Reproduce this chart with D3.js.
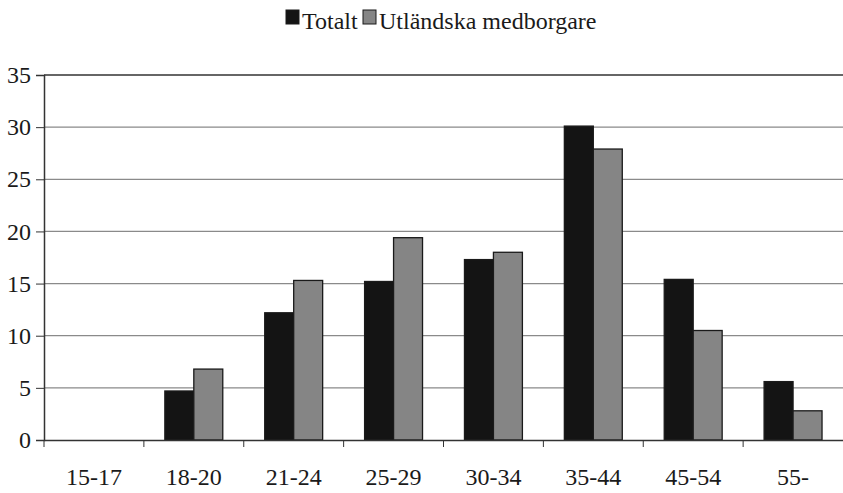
<!DOCTYPE html>
<html><head><meta charset="utf-8">
<script src="https://cdn.jsdelivr.net/npm/d3@7"></script>
<style>.cs{font-family:'Liberation Serif'}</style>
</head><body style="margin:0;background:#fff">
<div><svg id="c" width="843" height="492"></svg></div>
<script>
const categories=["15-17","18-20","21-24","25-29","30-34","35-44","45-54","55-"];
const seriesNames=["Totalt","Utländska medborgare"];
const totalt=[0,4.7,12.2,15.2,17.3,30.1,15.4,5.6];
const utlandska=[0,6.8,15.3,19.4,18.0,27.9,10.5,2.8];
const yTicks=[0,5,10,15,20,25,30,35];
const colors=["#141414","#858585"];

const svg=d3.select("#c");
const m={l:44,r:843,t:75,b:440};
const x=d3.scaleBand().domain(categories).range([m.l,m.r]).paddingInner(0.42).paddingOuter(0.21);
const x1=d3.scaleBand().domain(seriesNames).range([0,x.bandwidth()]);
const xb=d3.scaleBand().domain(categories).range([m.l,m.r]);
const y=d3.scaleLinear().domain([0,35]).range([m.b,m.t]);

svg.append("g").selectAll("line").data(yTicks.filter(d=>d>0&&d<35)).join("line")
 .attr("x1",m.l).attr("x2",m.r).attr("y1",d=>y(d)).attr("y2",d=>y(d))
 .attr("stroke","#8a8a8a").attr("stroke-width",1.2);
svg.append("line").attr("x1",m.l).attr("x2",m.r).attr("y1",y(35)).attr("y2",y(35)).attr("stroke","#333").attr("stroke-width",1.5);

const data=categories.map((c,i)=>({c,vals:[totalt[i],utlandska[i]]}));
const g=svg.append("g").selectAll("g").data(data).join("g").attr("transform",d=>`translate(${x(d.c)},0)`);
g.selectAll("rect").data(d=>d.vals.map((v,k)=>({v,k}))).join("rect")
 .attr("x",d=>x1(seriesNames[d.k])).attr("width",x1.bandwidth())
 .attr("y",d=>y(d.v)).attr("height",d=>y(0)-y(d.v))
 .attr("fill",d=>colors[d.k]).attr("stroke",d=>d.v>0?"#1a1a1a":"none").attr("stroke-width",1.3);

function serif(sel){sel.attr("font-family","Liberation Serif").attr("class","cs").style("font-family","'Liberation Serif'").attr("font-size",24).attr("fill","#1a1a1a");}

const ya=svg.append("g").attr("transform",`translate(${m.l},0)`)
 .call(d3.axisLeft(y).tickValues(yTicks).tickSize(8).tickPadding(5));
ya.attr("font-family",null).attr("font-size",null);
ya.select(".domain").attr("stroke","#333").attr("stroke-width",1.5);
ya.selectAll(".tick line").attr("stroke","#333");
serif(ya.selectAll("text"));

const xa=svg.append("g").attr("transform",`translate(0,${m.b})`)
 .call(d3.axisBottom(xb).tickSize(0).tickPadding(28));
xa.attr("font-family",null).attr("font-size",null);
xa.select(".domain").attr("stroke","#333").attr("stroke-width",1.5);
serif(xa.selectAll("text"));
svg.append("g").selectAll("line").data(categories).join("line")
 .attr("x1",d=>xb(d)).attr("x2",d=>xb(d)).attr("y1",m.b).attr("y2",m.b+7).attr("stroke","#333");

const lx=[286,363];
seriesNames.forEach((s,k)=>{
 svg.append("rect").attr("x",lx[k]).attr("y",10).attr("width",13).attr("height",14)
  .attr("fill",colors[k]).attr("stroke","#1a1a1a").attr("stroke-width",1);
 serif(svg.append("text").attr("x",lx[k]+16).attr("y",29).text(s));
});
</script></body></html>
